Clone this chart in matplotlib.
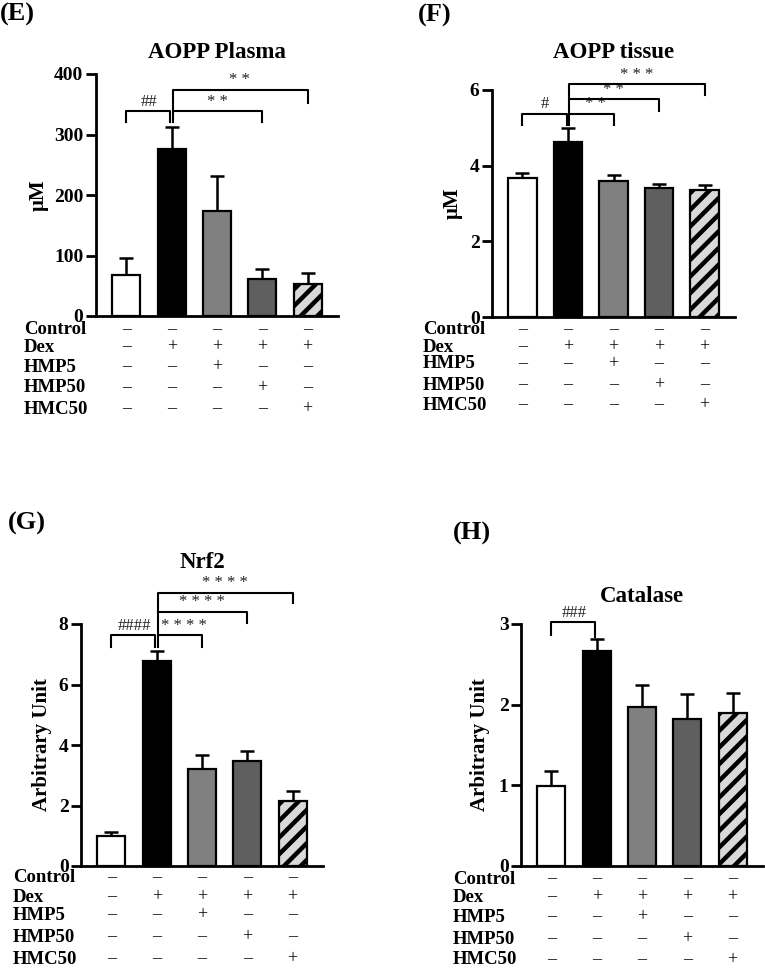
import matplotlib
matplotlib.use('Agg')
import matplotlib.pyplot as plt

plt.rcParams['font.family'] = ['Liberation Serif', 'DejaVu Serif']
plt.rcParams['hatch.linewidth'] = 3.2

W, H = 765, 968

groups = ['Control', 'Dex', 'HMP5', 'HMP50', 'HMC50']
row_names = ['Control', 'Dex', 'HMP5', 'HMP50', 'HMC50']
row_marks = [
    ['–', '–', '–', '–', '–'],
    ['–', '+', '+', '+', '+'],
    ['–', '–', '+', '–', '–'],
    ['–', '–', '–', '+', '–'],
    ['–', '–', '–', '–', '+'],
]

aopp_plasma = [68, 276, 174, 61, 53]
aopp_plasma_err = [28, 36, 57, 17, 18]
aopp_tissue = [3.67, 4.63, 3.60, 3.41, 3.36]
aopp_tissue_err = [0.14, 0.37, 0.15, 0.11, 0.13]
nrf2 = [0.99, 6.78, 3.22, 3.47, 2.15]
nrf2_err = [0.14, 0.34, 0.45, 0.34, 0.33]
catalase = [0.99, 2.67, 1.97, 1.82, 1.90]
catalase_err = [0.19, 0.15, 0.27, 0.31, 0.24]

# (from bar, to bar, bracket height, left leg end, right leg end, label)
sig_plasma = [(0, 1, 339, 321, 321, '##'),
              (1, 3, 339, 321, 321, '* *'),
              (1, 4, 374, 339, 352, '* *')]
sig_tissue = [(0, 1, 5.37, 5.07, 5.07, '#'),
              (1, 2, 5.37, 5.07, 5.07, '* *'),
              (1, 3, 5.76, 5.37, 5.45, '* *'),
              (1, 4, 6.16, 5.76, 5.87, '* * *')]
sig_nrf2 = [(0, 1, 7.64, 7.25, 7.25, '####'),
            (1, 2, 7.64, 7.25, 7.25, '* * * *'),
            (1, 3, 8.41, 7.64, 8.02, '* * * *'),
            (1, 4, 9.04, 8.41, 8.71, '* * * *')]
sig_catalase = [(0, 1, 3.02, 2.86, 2.84, '###')]

colors = ['white', 'black', '#808080', '#5f5f5f', '#d9d9d9']
hatches = [None, None, None, None, '//']


def px_axes(fig, l, t, r, b):
    return fig.add_axes([l / W, 1 - b / H, (r - l) / W, (b - t) / H])


def fig_text(fig, x, y, s, **kw):
    fig.text(x / W, 1 - y / H, s, **kw)


def panel(fig, box, vals, errs, ticks, sig, title, title_y, ylabel, ylabel_x,
          letter, letter_pos, rows_x, rows_dy):
    l, t, r, b = box
    ax = px_axes(fig, l, t, r, b)
    x = list(range(len(groups)))
    ax.errorbar(x, vals, yerr=[[0] * len(vals), errs], fmt='none',
                ecolor='black', elinewidth=1.8, capsize=5, capthick=1.8, zorder=1)
    for i in x:
        ax.bar(i, vals[i], width=0.62, color=colors[i], edgecolor='black',
               linewidth=1.6, hatch=hatches[i], zorder=2)
    ax.set_xlim(-0.67, 4.67)
    ax.set_ylim(0, ticks[-1])
    ax.set_yticks(ticks)
    ax.set_xticks([])
    for s in ['top', 'right']:
        ax.spines[s].set_visible(False)
    for s in ['left', 'bottom']:
        ax.spines[s].set_linewidth(2)
    ax.tick_params(axis='y', direction='out', length=7, width=2, pad=2, labelsize=14)
    for lab in ax.get_yticklabels():
        lab.set_fontweight('bold')

    for x1, x2, y, y1, y2, txt in sig:
        a = x1 + (0.03 if x1 == 1 else 0)
        c = x2 - (0.03 if x2 == 1 else 0)
        ax.plot([a, a, c, c], [y1, y, y, y2], color='black', lw=1.5,
                clip_on=False, zorder=3)
        shift = 0.1 if (x1, x2) == (1, 2) and txt.startswith('*') else 0
        ax.annotate(txt, xy=((x1 + x2) / 2 + shift, y), xytext=(0, 1),
                    textcoords='offset points', ha='center', va='bottom',
                    fontsize=12, color='#222222', annotation_clip=False)

    # treatment table under the bars
    for k, name in enumerate(row_names):
        dy = rows_dy[k]
        fig_text(fig, rows_x, b + dy, name, fontsize=13.5, fontweight='bold',
                 ha='left', va='center')
        for i in x:
            ax.annotate(row_marks[k][i], xy=(i, 0), xycoords=('data', 'axes fraction'),
                        xytext=(0, -dy * 0.72), textcoords='offset points',
                        ha='center', va='center', fontsize=13,
                        annotation_clip=False)

    fig_text(fig, (l + r) / 2, title_y, title, fontsize=16.5, fontweight='bold',
             ha='center', va='center')
    fig_text(fig, ylabel_x, (t + b) / 2, ylabel, fontsize=15, fontweight='bold',
             rotation=90, ha='center', va='center')
    fig_text(fig, letter_pos[0], letter_pos[1], letter, fontsize=19,
             fontweight='bold', ha='left', va='center')
    return ax


fig = plt.figure(figsize=(W / 100, H / 100), dpi=100)

panel(fig, (96, 74, 338, 316), aopp_plasma, aopp_plasma_err, [0, 100, 200, 300, 400],
      sig_plasma, 'AOPP Plasma', 53, 'μM', 39, '(E)', (0, 14),
      24, [14, 31, 51, 72, 93])
panel(fig, (492, 90, 735, 317), aopp_tissue, aopp_tissue_err, [0, 2, 4, 6],
      sig_tissue, 'AOPP tissue', 52, 'μM', 453, '(F)', (418, 15),
      423, [13, 30, 47, 68, 88])
panel(fig, (81, 624, 323, 866), nrf2, nrf2_err, [0, 2, 4, 6, 8],
      sig_nrf2, 'Nrf2', 562, 'Arbitrary Unit', 42, '(G)', (8, 523),
      13, [12, 31, 49, 71, 93])
panel(fig, (521, 624, 763, 866), catalase, catalase_err, [0, 1, 2, 3],
      sig_catalase, 'Catalase', 597, 'Arbitrary Unit', 480, '(H)', (453, 533),
      453, [13, 31, 51, 73, 94])

fig.savefig('out.png', dpi=100)
